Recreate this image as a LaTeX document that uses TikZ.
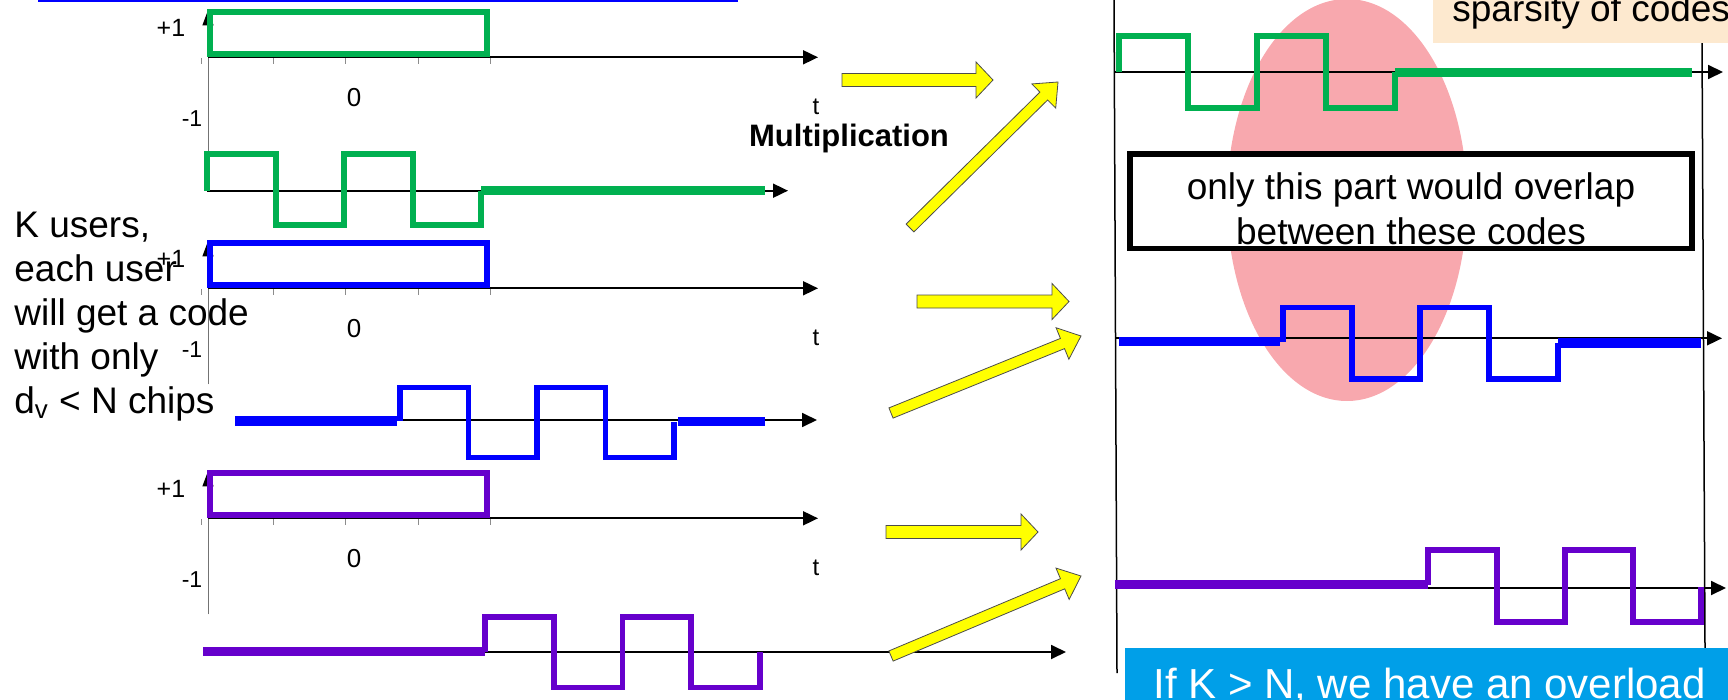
\documentclass[tikz,border=0pt]{standalone}
\usepackage{fontspec}
\setmainfont{Liberation Sans}
\usetikzlibrary{calc,arrows.meta}
\definecolor{cgreen}{RGB}{0,176,80}
\definecolor{cblue}{RGB}{0,0,255}
\definecolor{cpurple}{RGB}{102,0,204}
\definecolor{cyell}{RGB}{255,255,0}
\definecolor{cpink}{RGB}{248,168,174}
\definecolor{cpeach}{RGB}{253,233,207}
\definecolor{ccyan}{RGB}{0,159,232}
\newcommand\yarr[5]{% tail, tip, half shaft, half head, head length
  \coordinate (hh) at ($(#2)!#5!(#1)$);
  \path[yarrow] ($(#1)!#3!90:(#2)$) -- ($(hh)!#3!90:(#2)$) -- ($(hh)!#4!90:(#2)$)
    -- (#2) -- ($(hh)!#4!-90:(#2)$) -- ($(hh)!#3!-90:(#2)$) -- ($(#1)!#3!-90:(#2)$) -- cycle;}
\begin{document}
\begin{tikzpicture}[x=0.5pt,y=-0.5pt,
  axis/.style={draw=black,line width=0.9pt,-{Triangle[length=7.5pt,width=7pt]}},
  yaxis/.style={draw=black!55,line width=0.5pt,-{Triangle[length=7.5pt,width=5.5pt,color=black]}},
  tickm/.style={draw=black!45,line width=0.5pt},
  sig/.style={line width=2.8pt,line join=miter},
  thk/.style={line width=4.8pt},
  rectsig/.style={line width=2.8pt},
  yarrow/.style={fill=cyell,draw=black!70,line width=0.4pt},
  big/.style={font=\fontsize{18.5}{22}\selectfont,inner sep=0pt},
  lab/.style={inner sep=0pt},
  vline/.style={draw=black,line width=0.75pt}]
\useasboundingbox (0,0) rectangle (1728,700);

% pink ellipse
\fill[cpink] (1347,200) ellipse [x radius=120, y radius=201];

% top blue line
\draw[cblue,line width=1.2pt] (38,1) -- (738,1);

% left column: data bit panels
\foreach \A/\c/\n in {57.3/cgreen/g, 288.3/cblue/b, 518.3/cpurple/p}{
  \draw[yaxis] (208,\A+96) -- (208,\A-47);
  \foreach \tx in {201,273,345,418,490}{\draw[tickm] (\tx,\A+1) -- (\tx,\A+7);}
  \draw[axis] (208,\A) -- (818,\A);
  \draw[rectsig,draw=\c] (210,\A-45.5) rectangle (487,\A-3.4);
  \node[lab,font=\fontsize{12.5}{14}\selectfont] (plus\n) at (171,\A-29) {+1};
  \node[lab,font=\fontsize{13}{15}\selectfont] (zero\n) at (354,\A+40) {0};
  \node[lab,font=\fontsize{11.5}{13}\selectfont] (minus\n) at (192,\A+61) {-1};
  \node[lab,font=\fontsize{12}{14}\selectfont] (t\n) at (816,\A+50) {t};
}

% left lower axes
\draw[axis] (207,190.7) -- (788,190.7);
\draw[axis] (235,420) -- (817,420);
\draw[axis] (203,652) -- (1066,652);

% green left code
\draw[sig,cgreen] (207,190.7) -- (207,154) -- (276,154) -- (276,225) -- (344,225) -- (344,154)
  -- (413,154) -- (413,225) -- (481,225) -- (481,190.7);
\draw[thk,cgreen] (481,190.7) -- (765,190.7);
% blue left code
\draw[thk,cblue] (235,421) -- (397,421);
\draw[sig,cblue] (400,421) -- (400,387.5) -- (468.5,387.5) -- (468.5,457.5) -- (537,457.5) -- (537,387.5)
  -- (605.5,387.5) -- (605.5,457.5) -- (674,457.5) -- (674,421.5);
\draw[thk,cblue] (678,421.5) -- (765,421.5);
% purple left code
\draw[thk,cpurple] (203,651.5) -- (485,651.5);
\draw[sig,cpurple] (485,651.5) -- (485,617) -- (554,617) -- (554,687.5) -- (622.5,687.5) -- (622.5,617)
  -- (691,617) -- (691,687.5) -- (760,687.5) -- (760,652);

% multiplication label
\node[lab,font=\bfseries\fontsize{15.5}{18}\selectfont,anchor=base] (mult) at (849,147) {Multiplication};

% K users text
\node[big,anchor=base west] (k1) at (14,237) {K users,};
\node[big,anchor=base west] (k2) at (14,281) {each user};
\node[big,anchor=base west] (k3) at (14,325) {will get a code};
\node[big,anchor=base west] (k4) at (14,369) {with only};
\node[big,anchor=base west] (k5) at (14,413) {d\textsubscript{v} < N chips};

% yellow arrows
\coordinate (ga1) at (842,80);   \coordinate (ga2) at (993,80);
\coordinate (ba1) at (917,301.5); \coordinate (ba2) at (1069,301.5);
\coordinate (pa1) at (886,532);  \coordinate (pa2) at (1038,532);
\coordinate (gd1) at (910,228);  \coordinate (gd2) at (1058,82);
\coordinate (bd1) at (891,413);  \coordinate (bd2) at (1081,336);
\coordinate (pd1) at (891,656);  \coordinate (pd2) at (1081,576);
\yarr{ga1}{ga2}{3.25pt}{9pt}{8.5pt}
\yarr{ba1}{ba2}{3.25pt}{9pt}{8.5pt}
\yarr{pa1}{pa2}{3.25pt}{9pt}{8.5pt}
\yarr{gd1}{gd2}{2.75pt}{8.5pt}{10pt}
\yarr{bd1}{bd2}{2.75pt}{8.5pt}{10pt}
\yarr{pd1}{pd2}{2.75pt}{8.5pt}{10pt}

% right panel frame lines
\draw[vline] (1114,0) -- (1117,673);
\draw[vline] (1702,43) -- (1705,648);

% right axes
\draw[axis] (1115,72) -- (1723,72);
\draw[axis] (1115,338.3) -- (1722,338.3);
\draw[axis] (1117,588) -- (1726,588);

% green right code
\draw[sig,cgreen] (1119,72) -- (1119,36) -- (1188,36) -- (1188,108) -- (1257,108) -- (1257,36)
  -- (1326,36) -- (1326,108) -- (1395,108) -- (1395,72.5);
\draw[thk,cgreen] (1395,72.5) -- (1692,72.5);
% blue right code
\draw[thk,cblue] (1119,341.5) -- (1280,341.5);
\draw[sig,cblue] (1283,342) -- (1283,307.5) -- (1352,307.5) -- (1352,379) -- (1420,379) -- (1420,307.5)
  -- (1489,307.5) -- (1489,379) -- (1558,379) -- (1558,343);
\draw[thk,cblue] (1558,343) -- (1701,343);
% purple right code
\draw[thk,cpurple] (1115,584.5) -- (1428,584.5);
\draw[sig,cpurple] (1428,584.5) -- (1428,550) -- (1497,550) -- (1497,622) -- (1565,622) -- (1565,550)
  -- (1633,550) -- (1633,622) -- (1701,622) -- (1701,587);

% peach box
\fill[cpeach] (1433,-5) rectangle (1740,43);
\node[big,anchor=base west] (spars) at (1452,21.7) {sparsity of codes};

% overlap box
\draw[fill=white,line width=2.8pt] (1130,154) rectangle (1692,248.5);
\node[big,anchor=base] (ov1) at (1411,200) {only this part would overlap};
\node[big,anchor=base] (ov2) at (1411,245) {between these codes};

% overload box
\fill[ccyan] (1125,648) rectangle (1740,705);
\node[inner sep=0pt,font=\fontsize{21}{25}\selectfont,text=white,anchor=base west] (overl) at (1153,698) {If K > N, we have an overload};
\end{tikzpicture}
\end{document}
